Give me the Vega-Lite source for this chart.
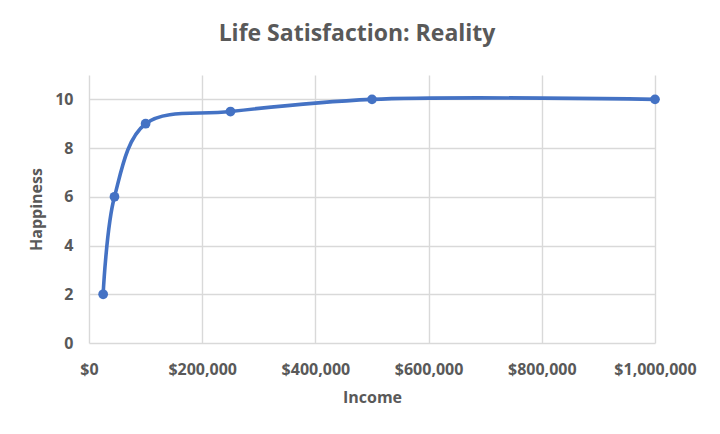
{
  "$schema": "https://vega.github.io/schema/vega-lite/v6.json",
  "width": 566,
  "height": 268,
  "autosize": {"type": "none"},
  "padding": {"left": 89, "top": 75, "right": 65, "bottom": 91},
  "background": "white",
  "title": {
    "text": "Life Satisfaction: Reality",
    "font": "Open Sans",
    "fontSize": 23,
    "fontWeight": "bold",
    "color": "#595959",
    "anchor": "middle",
    "dx": -15,
    "baseline": "bottom",
    "offset": 6
  },
  "config": {
    "view": {"stroke": null},
    "axis": {
      "labelFont": "Open Sans",
      "labelFontSize": 16,
      "labelFontWeight": "bold",
      "labelColor": "#595959",
      "titleFont": "Open Sans",
      "titleFontSize": 16,
      "titleFontWeight": "bold",
      "titleColor": "#595959",
      "gridColor": "#d9d9d9",
      "gridWidth": 1.4,
      "ticks": false,
      "tickSize": 0,
      "domain": false
    }
  },
  "data": {
    "values": [
      {"income": 25000, "happiness": 2},
      {"income": 45000, "happiness": 6},
      {"income": 100000, "happiness": 9},
      {"income": 250000, "happiness": 9.5},
      {"income": 500000, "happiness": 10},
      {"income": 1000000, "happiness": 10}
    ]
  },
  "layer": [
    {
      "mark": {"type": "line", "interpolate": "catmull-rom", "color": "#4472C4", "strokeWidth": 3.6},
      "encoding": {
        "x": {
          "field": "income", "type": "quantitative", "title": "Income",
          "scale": {"domain": [0, 1000000], "nice": false},
          "axis": {"values": [0, 200000, 400000, 600000, 800000, 1000000], "format": "$,.0f", "labelPadding": 18, "titlePadding": 12, "labelFlush": false}
        },
        "y": {
          "field": "happiness", "type": "quantitative", "title": "Happiness",
          "scale": {"domain": [0, 11], "nice": false},
          "axis": {"values": [0, 2, 4, 6, 8, 10], "labelPadding": 16, "titlePadding": 10}
        }
      }
    },
    {
      "mark": {"type": "point", "filled": true, "color": "#4472C4", "size": 95, "opacity": 1},
      "encoding": {
        "x": {"field": "income", "type": "quantitative"},
        "y": {"field": "happiness", "type": "quantitative"}
      }
    }
  ]
}
